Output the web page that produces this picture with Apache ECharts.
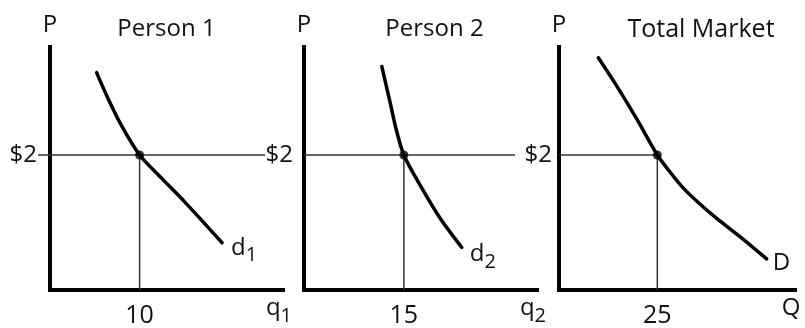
<!DOCTYPE html>
<html>
<head>
<meta charset="utf-8">
<script src="https://cdn.jsdelivr.net/npm/echarts@6/dist/echarts.min.js"></script>
<style>
  html, body { margin: 0; padding: 0; background: #fff; }
  #chart { width: 805px; height: 328px; }
</style>
</head>
<body>
<div id="chart"></div>
<script>
// Panel titles and axis names
const panelTitles = ['Person 1', 'Person 2', 'Total Market'];
const qNames = ['q', 'q', 'Q'];
const qSubs = ['1', '2', ''];
const demandNames = ['d', 'd', 'D'];
const demandSubs = ['1', '2', ''];

// Market price and quantity demanded at that price
const price = 2;
const priceLabel = '$2';
const quantities = [10, 15, 25];

// Demand curves: [quantity, price]
const demand1 = [[5.2, 3.22], [6.5, 2.83], [8.0, 2.43], [10, 2], [12.5, 1.65], [15.0, 1.31], [19.2, 0.70]];
const demand2 = [[11.7, 3.31], [12.3, 3.05], [13.0, 2.75], [13.8, 2.40], [15, 2], [17.4, 1.56], [20.4, 1.07], [23.7, 0.63]];
const demandM = [[10.0, 3.44], [14.7, 3.02], [19.8, 2.53], [25, 2], [28.2, 1.75], [31.6, 1.51], [35.9, 1.27], [40.1, 1.06], [46.0, 0.79], [52.8, 0.46]];
const demands = [demand1, demand2, demandM];

// How far the $2 price line runs in each panel (quantity units)
const priceLineEnds = [24, 31.7, 25];

// Axis ranges
const qMax = [26, 35, 60];
const pMax = 3.6;

const FONT = '"Open Sans", sans-serif';
const INK = '#111';

const grids = [
  { left: 50, top: 47, width: 233, height: 246 },
  { left: 304, top: 47, width: 233, height: 246 },
  { left: 559, top: 47, width: 236, height: 246 }
];

const subRich = {
  m: { fontFamily: FONT, fontSize: 24, color: INK, verticalAlign: 'top', lineHeight: 30 },
  s: { fontFamily: FONT, fontSize: 20, color: INK, verticalAlign: 'bottom', lineHeight: 30 }
};
const withSub = (main, sub) => sub ? '{m|' + main + '}{s|' + sub + '}' : '{m|' + main + '}';

const xAxes = [], yAxes = [], series = [], titles = [];

for (let i = 0; i < 3; i++) {
  const g = grids[i];
  titles.push({
    text: panelTitles[i],
    left: g.left + g.width / 2 + [-5, 9, 19][i],
    top: 12,
    textAlign: 'center',
    textStyle: { fontFamily: FONT, fontSize: [24, 24, 25][i], fontWeight: 'normal', color: INK }
  });

  xAxes.push({
    gridIndex: i,
    type: 'value',
    min: 0,
    max: qMax[i],
    splitLine: { show: false },
    axisLine: { lineStyle: { color: '#000', width: 4, cap: 'square' } },
    axisTick: { show: false },
    axisLabel: {
      customValues: [quantities[i]],
      fontFamily: FONT, fontSize: 25, color: INK, margin: 13
    },
    name: withSub(qNames[i], qSubs[i]),
    nameLocation: 'end',
    nameGap: -4,
    nameTextStyle: {
      align: 'center',
      verticalAlign: 'top',
      padding: [6, 0, 0, 0],
      rich: subRich
    }
  });

  yAxes.push({
    gridIndex: i,
    type: 'value',
    min: 0,
    max: pMax,
    splitLine: { show: false },
    axisLine: { lineStyle: { color: '#000', width: 4, cap: 'square' } },
    axisTick: {
      show: i === 0,
      customValues: [price],
      length: 12,
      lineStyle: { color: '#333', width: 1.5 }
    },
    axisLabel: {
      customValues: [price],
      formatter: () => priceLabel,
      fontFamily: FONT, fontSize: 24, color: INK,
      margin: [13, 11, 7][i]
    },
    name: 'P',
    nameLocation: 'end',
    nameGap: 10,
    nameTextStyle: { fontFamily: FONT, fontSize: 24, color: INK, align: 'center' }
  });

  // Price line at $2
  series.push({
    type: 'line',
    xAxisIndex: i, yAxisIndex: i,
    data: [[0, price], [priceLineEnds[i], price]],
    symbol: 'none',
    lineStyle: { color: '#333', width: 1.5 },
    silent: true, animation: false, z: 2
  });
  // Quantity drop line
  series.push({
    type: 'line',
    xAxisIndex: i, yAxisIndex: i,
    data: [[quantities[i], 0], [quantities[i], price]],
    symbol: 'none',
    lineStyle: { color: '#333', width: 1.5 },
    silent: true, animation: false, z: 2
  });

  // Demand curve, labelled at its lower end
  series.push({
    type: 'line',
    xAxisIndex: i, yAxisIndex: i,
    data: demands[i],
    smooth: 0.3,
    symbol: 'none',
    lineStyle: { color: '#000', width: 3.5, cap: 'round' },
    endLabel: {
      show: true,
      distance: 4,
      offset: [[5, 8], [4, 10], [2, 7]][i],
      formatter: () => withSub(demandNames[i], demandSubs[i]),
      rich: subRich
    },
    silent: true, animation: false, z: 3
  });

  // Point where the curve meets the price
  series.push({
    type: 'scatter',
    xAxisIndex: i, yAxisIndex: i,
    data: [[quantities[i], price]],
    symbol: 'circle',
    symbolSize: 9,
    itemStyle: { color: '#000' },
    silent: true, animation: false, z: 4
  });
}

const chart = echarts.init(document.getElementById('chart'), null, { renderer: 'canvas' });
chart.setOption({
  backgroundColor: '#fff',
  animation: false,
  title: titles,
  grid: grids,
  xAxis: xAxes,
  yAxis: yAxes,
  series: series
});
</script>
</body>
</html>
